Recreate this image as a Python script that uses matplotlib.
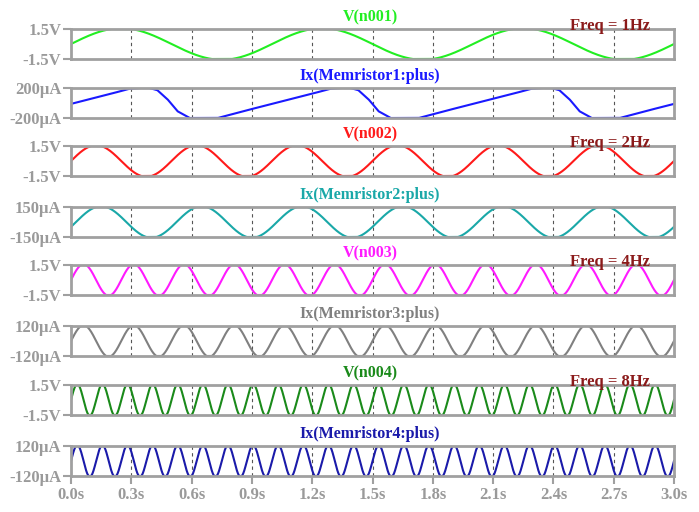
import numpy as np
import matplotlib.pyplot as plt

# Signal names, trace colours and y-limits for each stacked panel
names = ['V(n001)', 'Ix(Memristor1:plus)', 'V(n002)', 'Ix(Memristor2:plus)',
         'V(n003)', 'Ix(Memristor3:plus)', 'V(n004)', 'Ix(Memristor4:plus)']
colors = ['#22ee22', '#1a1aff', '#ff1a1a', '#1aa8a8',
          '#ff1aff', '#808080', '#1a8a1a', '#1a1aaa']
limits = [1.5, 200, 1.5, 150, 1.5, 120, 1.5, 120]
units = ['V', 'µA', 'V', 'µA', 'V', 'µA', 'V', 'µA']

# Source frequency (Hz) per panel and current lag (s) behind the voltage
freqs = [1, 1, 2, 2, 4, 4, 8, 8]
lags = [0, 0, 0, 0.025, 0, 0, 0, 0]
freq_labels = {0: 'Freq = 1Hz', 2: 'Freq = 2Hz', 4: 'Freq = 4Hz', 6: 'Freq = 8Hz'}

# One period of the memristor-1 current (fraction of period, fraction of 200µA)
m1_phase = [0.00, 0.10, 0.20, 0.29, 0.34, 0.39, 0.43, 0.48, 0.53, 0.59,
            0.73, 0.80, 0.90, 1.00]
m1_shape = [-0.06, 0.28, 0.62, 0.95, 1.0, 1.0, 0.85, 0.25, -0.55, -1.0,
            -1.0, -0.75, -0.40, -0.06]

t_end = 3.0
xticks = [0.0, 0.3, 0.6, 0.9, 1.2, 1.5, 1.8, 2.1, 2.4, 2.7, 3.0]

W, H = 699, 512
fig = plt.figure(figsize=(W / 100, H / 100), dpi=100)
plt.rcParams['font.family'] = ['Liberation Serif', 'DejaVu Serif']

frame = '#a0a0a0'
tick_col = '#9a9a9a'
left, right = 71, 674
tops = [29, 88, 146, 207, 265, 326, 385, 446]
ph = 30

t = np.linspace(0, t_end, 3001)
for i, name in enumerate(names):
    ax = fig.add_axes([left / W, 1 - (tops[i] + ph) / H, (right - left) / W, ph / H])
    lim = limits[i]
    if i == 1:
        # tile the measured period across the run
        y = np.interp(t % 1.0, m1_phase, m1_shape) * lim
    else:
        y = 1.05 * lim * np.sin(2 * np.pi * freqs[i] * (t - lags[i]))
        y = np.clip(y, -lim, lim)
    ax.plot(t, y, color=colors[i], lw=1.5)
    ax.set_xlim(0, t_end)
    ax.set_ylim(-lim, lim)
    for xv in xticks[1:-1]:
        ax.axvline(xv, color='#555555', lw=0.8, ls=(0, (3, 3)), zorder=0)
    for s in ax.spines.values():
        s.set_color(frame)
        s.set_linewidth(2)
    lab = f'{lim:g}{units[i]}'
    ax.set_yticks([-lim, lim])
    ax.set_yticklabels(['-' + lab, lab])
    ax.tick_params(axis='y', colors=frame, length=6, width=1.5, pad=1,
                   labelcolor=tick_col, labelsize=12)
    for tl in ax.get_yticklabels():
        tl.set_fontweight('bold')
    ax.set_xticks(xticks)
    if i == len(names) - 1:
        ax.set_xticklabels([f'{v:.1f}s' for v in xticks])
        ax.tick_params(axis='x', colors=frame, length=6, width=1.5, pad=2,
                       labelcolor=tick_col, labelsize=12)
        for tl in ax.get_xticklabels():
            tl.set_fontweight('bold')
    else:
        ax.tick_params(axis='x', length=0, labelbottom=False)
    fig.text(370 / W, 1 - (tops[i] - 12) / H, name, color=colors[i],
             fontsize=11.5, fontweight='bold', ha='center', va='center')
    if i in freq_labels:
        fig.text(610 / W, 1 - (tops[i] - 3) / H, freq_labels[i], color='#8b1a1a',
                 fontsize=12, fontweight='bold', ha='center', va='center')

fig.savefig('out.png', dpi=100, facecolor='white')
